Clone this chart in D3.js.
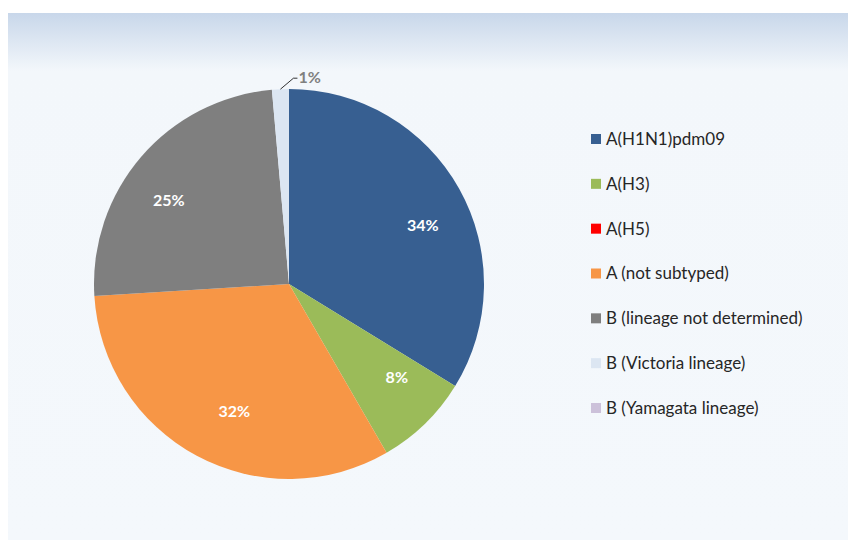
<!DOCTYPE html>
<html><head><meta charset="utf-8">
<script src="https://cdn.jsdelivr.net/npm/d3@7"></script>
<style>html,body{margin:0;padding:0;background:#fff;}svg{display:block;}</style>
</head><body>
<svg id="chart" width="848" height="542"></svg>
<script>
const categories = ["A(H1N1)pdm09","A(H3)","A(H5)","A (not subtyped)","B (lineage not determined)","B (Victoria lineage)","B (Yamagata lineage)"];
const values = [33.8, 7.9, 0, 32.4, 24.6, 1.4, 0];
const colors = ["#375f91","#9bbb59","#ff0000","#f79646","#7f7f7f","#dce6f2","#ccc1da"];

const svg = d3.select("#chart");
const font = "Lato, 'Open Sans', sans-serif";

const defs = svg.append("defs");
const grad = defs.append("linearGradient").attr("id","bg").attr("x1",0).attr("y1",0).attr("x2",0).attr("y2",1);
grad.append("stop").attr("offset","0").attr("stop-color","#c8d7ea");
grad.append("stop").attr("offset","0.11").attr("stop-color","#f3f7fb");
grad.append("stop").attr("offset","1").attr("stop-color","#f4f8fc");
svg.append("rect").attr("x",8).attr("y",13).attr("width",845).attr("height",527).attr("fill","url(#bg)");

const cx = 289, cy = 284, R = 195;
const total = d3.sum(values);
const pie = d3.pie().value(d => d).sort(null)(values);
const arc = d3.arc().innerRadius(0).outerRadius(R);
const g = svg.append("g").attr("transform",`translate(${cx},${cy})`);
g.selectAll("path").data(pie).join("path")
  .attr("d",arc).attr("fill",(d,i)=>colors[i]);

const fmt = v => Math.round(v/total*100) + "%";
// best-fit style label placement: small angular shift from the slice middle
const shiftDeg = [5.5, -5, 0, -5, -6, 0, 0];
const radFrac = [0.75, 0.73, 0.74, 0.71, 0.75, 0.74, 0.74];
pie.forEach((d,i)=>{
  if (d.value <= 0) return;
  if (d.value/total < 0.03) {
    const a = (d.startAngle+d.endAngle)/2;
    const p0 = [Math.sin(a)*R, -Math.cos(a)*R];
    const p1 = [p0[0]+13, p0[1]-11];
    const p2 = [p1[0]+4, p1[1]];
    g.append("polyline").attr("points",[p0,p1,p2].map(p=>p.join(",")).join(" "))
      .attr("fill","none").attr("stroke","#000").attr("stroke-width",0.8);
    g.append("text").attr("x",p2[0]+1).attr("y",p2[1]-1).attr("dy","0.35em")
      .attr("font-family",font).attr("font-weight","bold").attr("font-size",16)
      .attr("fill","#808080").text(fmt(d.value));
  } else {
    const a = (d.startAngle+d.endAngle)/2 + shiftDeg[i]*Math.PI/180;
    const r = R*radFrac[i];
    g.append("text").attr("x",Math.sin(a)*r).attr("y",-Math.cos(a)*r).attr("dy","0.35em")
      .attr("text-anchor","middle")
      .attr("font-family",font).attr("font-weight","bold").attr("font-size",16)
      .attr("fill","#fff").text(fmt(d.value));
  }
});

const ly = d3.scalePoint().domain(categories).range([139,408]);
const lg = svg.append("g");
categories.forEach((c,i)=>{
  lg.append("rect").attr("x",591).attr("y",ly(c)-5).attr("width",10).attr("height",10).attr("fill",colors[i]);
  lg.append("text").attr("x",606).attr("y",ly(c)).attr("dy","0.35em")
    .attr("font-family",font).attr("font-size",17).attr("fill","#262626").text(c);
});
</script>
</body></html>
